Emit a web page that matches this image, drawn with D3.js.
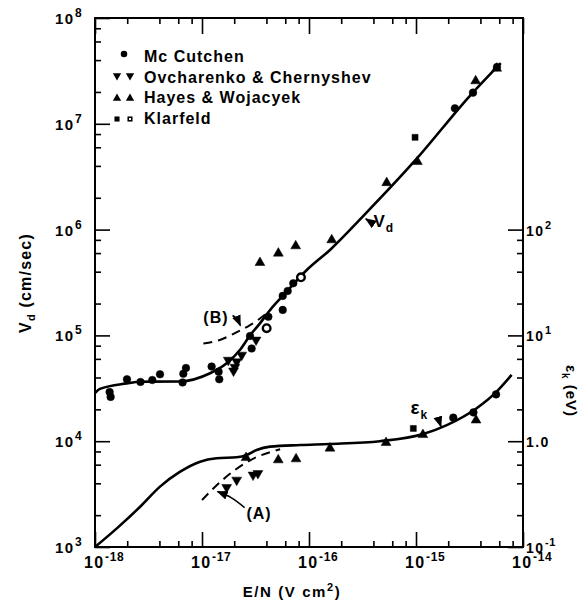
<!DOCTYPE html>
<html><head><meta charset="utf-8">
<script src="https://cdn.jsdelivr.net/npm/d3@7"></script>
<style>body{margin:0;background:#fff}svg{display:block}</style>
</head><body><svg id="c" width="585" height="604"></svg>
<script>
// ---------- data ----------
const xDecades = [1e-18, 1e-17, 1e-16, 1e-15, 1e-14];
const xTickExps = ["-18", "-17", "-16", "-15", "-14"];
const yDecades = [1e3, 1e4, 1e5, 1e6, 1e7, 1e8];
const yTickExps = ["3", "4", "5", "6", "7", "8"];
const rDecades = [0.1, 1, 10, 100];
const rTickBase = ["10", "1.0", "10", "10"];
const rTickExps = ["-1", "", "1", "2"];
const minorMultipliers = [2, 4, 6, 8];

// drift velocity curve Vd (cm/sec) vs E/N (V cm^2)
const vdCurveEN = [1e-18, 1.11e-18, 1.98e-18, 2.64e-18, 6.2e-18, 1.19e-17, 1.70e-17, 2.26e-17, 2.81e-17, 3.48e-17, 4.33e-17, 6.19e-17, 9.53e-17, 1.58e-16, 3.16e-16, 1e-15, 3.16e-15, 6.2e-15];
const vdCurveV  = [2.85e4, 3.12e4, 3.52e4, 3.65e4, 3.67e4, 4.39e4, 5.45e4, 7.28e4, 1.0e5, 1.30e5, 1.74e5, 2.59e5, 4.15e5, 6.46e5, 1.32e6, 4.6e6, 1.82e7, 3.75e7];
// dashed curve (B)
const bCurveEN = [1.03e-17, 1.47e-17, 2.03e-17, 2.81e-17, 4.02e-17, 4.4e-17];
const bCurveV  = [8.4e4, 9.06e4, 1.05e5, 1.25e5, 1.62e5, 1.76e5];
// characteristic energy curve eps_k (eV)
const ekCurveEN = [1e-18, 1.6e-18, 2.64e-18, 4.05e-18, 6.2e-18, 9.6e-18, 1.37e-17, 2.11e-17, 2.62e-17, 3.24e-17, 4.33e-17, 8.24e-17, 1.57e-16, 4.6e-16, 1.17e-15, 1.94e-15, 3.69e-15, 5.68e-15, 7.83e-15];
const ekCurveE  = [0.1, 0.15, 0.24, 0.372, 0.512, 0.64, 0.689, 0.705, 0.741, 0.826, 0.888, 0.92, 0.941, 1.0, 1.17, 1.42, 2.05, 2.94, 4.23];
// dashed curve (A)
const aCurveEN = [1e-17, 1.58e-17, 2.82e-17, 5.37e-17];
const aCurveE  = [0.278, 0.436, 0.66, 0.84];

// measurements
const mcVdEN = [1.37e-18, 1.40e-18, 1.99e-18, 2.66e-18, 3.43e-18, 4.05e-18, 6.58e-18, 6.69e-18, 7.08e-18, 1.23e-17, 1.43e-17, 1.45e-17, 2.81e-17, 2.91e-17, 4.17e-17, 5.68e-17, 5.68e-17, 6.32e-17, 7.13e-17, 2.31e-15, 3.41e-15, 5.71e-15];
const mcVd   = [2.92e4, 2.62e4, 3.85e4, 3.63e4, 3.79e4, 4.29e4, 3.59e4, 4.34e4, 4.92e4, 5.08e4, 4.54e4, 3.85e4, 9.86e4, 7.52e4, 1.50e5, 1.74e5, 2.36e5, 2.63e5, 3.11e5, 1.40e7, 1.97e7, 3.44e7];
const mcOpenVdEN = [4.02e-17, 8.41e-17];
const mcOpenVd   = [1.17e5, 3.54e5];
const mcEkEN = [2.23e-15, 3.44e-15, 5.6e-15];
const mcEk   = [1.67, 1.87, 2.77];
const ovVdEN = [1.76e-17, 1.97e-17, 2.03e-17, 2.11e-17, 2.35e-17, 3.2e-17];
const ovVd   = [5.85e4, 4.62e4, 5.02e4, 5.64e4, 6.53e4, 9.06e4];
const ovEkEN = [1.70e-17, 2.11e-17, 3.0e-17, 3.33e-17];
const ovEk   = [0.366, 0.43, 0.48, 0.496];
const hwVdEN = [3.48e-17, 5.17e-17, 7.51e-17, 1.63e-16, 5.32e-16, 1.03e-15, 3.61e-15, 5.68e-15];
const hwVd   = [4.87e5, 5.97e5, 7.0e5, 7.98e5, 2.77e6, 4.38e6, 2.54e7, 3.34e7];
const hwEkEN = [2.58e-17, 5.16e-17, 7.57e-17, 1.57e-16, 5.25e-16, 1.16e-15, 3.64e-15];
const hwEk   = [0.698, 0.664, 0.679, 0.857, 0.968, 1.15, 1.58];
const klVdEN = [9.8e-16];
const klVd   = [7.45e6];
const klEkEN = [9.44e-16];
const klEk   = [1.32];

const legendNames = ["Mc Cutchen", "Ovcharenko & Chernyshev", "Hayes & Wojacyek", "Klarfeld"];

// ---------- layout ----------
const L = 95, R = 523, T = 18, B = 547;
const FONT = "'Liberation Sans', Arial, sans-serif";
const svg = d3.select("#c");
const x = d3.scaleLog().domain([1e-18, 1e-14]).range([L, R]);
const y = d3.scaleLog().domain([1e3, 1e8]).range([B, T]);
const yR = d3.scaleLog().domain([0.1, 1e4]).range([B, T]);

const zip = (a, b) => a.map((v, i) => [v, b[i]]);
const minorOf = decs => decs.slice(0, -1).flatMap(d => minorMultipliers.map(m => m * d));

// ---------- axes (inward ticks on all sides) ----------
function axisG(axis, tx, ty) {
  const g = svg.append("g").attr("transform", `translate(${tx},${ty})`).call(axis);
  g.select(".domain").remove();
  g.selectAll("line").attr("stroke", "#000").attr("stroke-width", 1.6);
  g.selectAll("text").remove();
}
axisG(d3.axisBottom(x).tickValues(xDecades).tickSize(-15).tickFormat(""), 0, B);
axisG(d3.axisBottom(x).tickValues(minorOf(xDecades)).tickSize(-6).tickFormat(""), 0, B);
axisG(d3.axisTop(x).tickValues(xDecades).tickSize(-16).tickFormat(""), 0, T);
axisG(d3.axisTop(x).tickValues(minorOf(xDecades)).tickSize(-6).tickFormat(""), 0, T);
axisG(d3.axisLeft(y).tickValues(yDecades).tickSize(-15).tickFormat(""), L, 0);
axisG(d3.axisLeft(y).tickValues(minorOf(yDecades)).tickSize(-6).tickFormat(""), L, 0);
axisG(d3.axisRight(yR).tickValues(rDecades).tickSize(-15).tickFormat(""), R, 0);
axisG(d3.axisRight(yR).tickValues(minorOf(rDecades)).tickSize(-6).tickFormat(""), R, 0);

svg.append("rect").attr("x", L).attr("y", T).attr("width", R - L).attr("height", B - T)
  .attr("fill", "none").attr("stroke", "#000").attr("stroke-width", 2);

// ---------- tick labels ----------
function powLabel(px, py, base, exp, fs, efs, anchor) {
  const t = svg.append("text").attr("x", px).attr("y", py).attr("font-family", FONT)
    .attr("font-weight", "bold").attr("font-size", fs).attr("letter-spacing", 1.4)
    .attr("text-anchor", anchor || "start");
  t.append("tspan").text(base);
  if (exp) t.append("tspan").attr("font-size", efs).attr("dy", -7).attr("dx", 0.5).attr("letter-spacing", 0.6).text(exp);
  return t;
}
xDecades.forEach((d, i) => powLabel(x(d) - 11, 568, "10", xTickExps[i], 16, 12));
yDecades.forEach((d, i) => powLabel(55, y(d) + 6, "10", yTickExps[i], 15, 12));
rDecades.forEach((d, i) => powLabel(526, yR(d) + 6, rTickBase[i], rTickExps[i], 14, 11));

// ---------- axis titles ----------
const xt = svg.append("text").attr("x", 292).attr("y", 597).attr("text-anchor", "middle")
  .attr("font-family", FONT).attr("font-weight", "bold").attr("font-size", 15).attr("letter-spacing", 1.6);
xt.append("tspan").text("E/N (V cm");
xt.append("tspan").attr("font-size", 11).attr("dy", -6).text("2");
xt.append("tspan").attr("dy", 6).text(")");

const yt = svg.append("text").attr("transform", "translate(31,283) rotate(-90)").attr("text-anchor", "middle")
  .attr("font-family", FONT).attr("font-weight", "bold").attr("font-size", 16).attr("letter-spacing", 1.2);
yt.append("tspan").text("V");
yt.append("tspan").attr("font-size", 11).attr("dy", 4).text("d");
yt.append("tspan").attr("dy", -4).text("  (cm/sec)");

const rt = svg.append("text").attr("transform", "translate(566,391) rotate(90)").attr("text-anchor", "middle")
  .attr("font-family", FONT).attr("font-weight", "bold").attr("font-size", 15).attr("letter-spacing", 1);
rt.append("tspan").text("\u03B5");
rt.append("tspan").attr("font-size", 10).attr("dy", 4).text("k");
rt.append("tspan").attr("dy", -4).text(" (eV)");

// ---------- curves ----------
const lineV = d3.line().x(d => x(d[0])).y(d => y(d[1])).curve(d3.curveMonotoneX);
const lineE = d3.line().x(d => x(d[0])).y(d => yR(d[1])).curve(d3.curveMonotoneX);
svg.append("path").attr("d", lineV(zip(vdCurveEN, vdCurveV))).attr("fill", "none").attr("stroke", "#000").attr("stroke-width", 2.6);
svg.append("path").attr("d", lineE(zip(ekCurveEN, ekCurveE))).attr("fill", "none").attr("stroke", "#000").attr("stroke-width", 2.6);
svg.append("path").attr("d", lineV(zip(bCurveEN, bCurveV))).attr("fill", "none").attr("stroke", "#000").attr("stroke-width", 2).attr("stroke-dasharray", "9,6");
svg.append("path").attr("d", lineE(zip(aCurveEN, aCurveE))).attr("fill", "none").attr("stroke", "#000").attr("stroke-width", 2).attr("stroke-dasharray", "9,6");

// ---------- markers ----------
const sym = {
  circle: d3.symbol().type(d3.symbolCircle).size(46)(),
  tri: d3.symbol().type(d3.symbolTriangle).size(42)(),
  square: d3.symbol().type(d3.symbolSquare).size(36)()
};
function marks(pts, sx, sy, kind, opts = {}) {
  svg.append("g").selectAll("path").data(pts).join("path")
    .attr("d", sym[kind])
    .attr("transform", d => `translate(${sx(d[0])},${sy(d[1])})${opts.down ? " rotate(180)" : ""}`)
    .attr("fill", opts.open ? "#fff" : "#000")
    .attr("stroke", "#000").attr("stroke-width", opts.open ? 2.4 : 0.5);
}
marks(zip(mcVdEN, mcVd), x, y, "circle");
marks(zip(mcOpenVdEN, mcOpenVd), x, y, "circle", { open: true });
marks(zip(mcEkEN, mcEk), x, yR, "circle");
marks(zip(ovVdEN, ovVd), x, y, "tri", { down: true });
marks(zip(ovEkEN, ovEk), x, yR, "tri", { down: true });
marks(zip(hwVdEN, hwVd), x, y, "tri");
marks(zip(hwEkEN, hwEk), x, yR, "tri");
marks(zip(klVdEN, klVd), x, y, "square");
marks(zip(klEkEN, klEk), x, yR, "square");

// ---------- annotations ----------
svg.append("defs").append("marker").attr("id", "ah").attr("viewBox", "0 0 10 10")
  .attr("refX", 9).attr("refY", 5).attr("markerWidth", 7).attr("markerHeight", 7).attr("orient", "auto")
  .append("path").attr("d", "M0,1 L10,5 L0,9 Z").attr("fill", "#000");

function label(px, py, parts, fs) {
  const t = svg.append("text").attr("x", px).attr("y", py).attr("font-family", FONT)
    .attr("font-weight", "bold").attr("font-size", fs).attr("letter-spacing", 1);
  parts.forEach(p => t.append("tspan").attr("font-size", p.fs || fs).attr("dy", p.dy || 0).text(p.t));
}
function arrow(pts, sx, sy) {
  const ln = d3.line().x(d => sx(d[0])).y(d => sy(d[1])).curve(d3.curveNatural);
  svg.append("path").attr("d", ln(pts)).attr("fill", "none").attr("stroke", "#000")
    .attr("stroke-width", 1.6).attr("marker-end", "url(#ah)");
}
// (A)
label(x(2.6e-17), yR(0.182), [{ t: "(A)" }], 16);
arrow([[2.5e-17, 0.236], [1.9e-17, 0.29], [1.4e-17, 0.334]], x, yR);
// (B)
label(x(1.03e-17), y(1.32e5), [{ t: "(B)" }], 16);
arrow([[1.93e-17, 1.54e5], [2.12e-17, 1.43e5], [2.28e-17, 1.24e5]], x, y);
// Vd
label(x(4.0e-16), y(1.05e6), [{ t: "V" }, { t: "d", fs: 12, dy: 5 }], 17);
arrow([[3.9e-16, 1.15e6], [3.4e-16, 1.26e6]], x, y);
// eps_k
label(x(8.9e-16), y(1.8e4), [{ t: "\u03B5" }, { t: "k", fs: 12, dy: 5 }], 19);
arrow([[1.51e-15, 1.66e4], [1.64e-15, 1.52e4], [1.71e-15, 1.38e4]], x, y);

// ---------- legend ----------
const legY = [62, 82.7, 103.4, 124];
const legG = svg.append("g");
legendNames.forEach((n, i) => {
  legG.append("text").attr("x", 144).attr("y", legY[i]).attr("font-family", FONT)
    .attr("font-weight", "bold").attr("font-size", 16).attr("letter-spacing", 1).text(n);
});
const legSym = (cx, cy, kind, down, hole) => {
  legG.append("path").attr("d", sym[kind]).attr("transform", `translate(${cx},${cy})${down ? " rotate(180)" : ""} scale(0.85)`).attr("fill", "#000");
  if (hole) legG.append("rect").attr("x", cx - 1).attr("y", cy - 1).attr("width", 2).attr("height", 2).attr("fill", "#fff");
};
legSym(124, legY[0] - 8, "circle");
legSym(117, legY[1] - 7, "tri", true); legSym(130, legY[1] - 7, "tri", true);
legSym(117, legY[2] - 5, "tri"); legSym(130, legY[2] - 5, "tri");
legSym(117, legY[3] - 5, "square"); legSym(130, legY[3] - 5, "square", false, true);
</script>
</body></html>
